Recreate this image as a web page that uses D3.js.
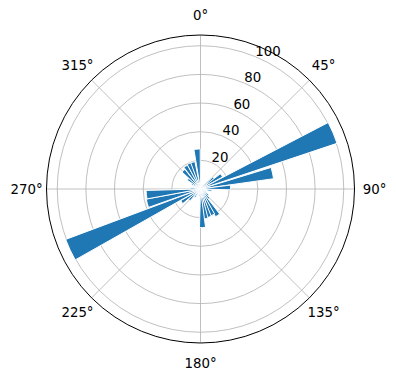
<!DOCTYPE html>
<html>
<head>
<meta charset="utf-8">
<script src="https://cdn.jsdelivr.net/npm/d3@7"></script>
<style>
  html, body { margin: 0; padding: 0; background: #fff; }
  svg text { font-family: "DejaVu Sans", sans-serif; font-size: 13.33px; fill: #000; }
</style>
</head>
<body>
<div id="chart"></div>
<script>
// bar directions (degrees, clockwise from north) and lengths
const directions = [50, 57, 67, 77.5, 87, 100, 118, 128, 138, 147, 155, 163, 170, 177,
                    188, 215, 226, 235, 245, 255, 264, 275, 300, 308, 317, 327, 336, 344, 355];
const values     = [12, 17.5, 100.5, 51.5, 21, 8, 5, 7, 9, 22, 20, 20.5, 21, 27,
                    5, 7, 11, 16, 100.5, 38.5, 38, 7, 7, 11, 17.5, 19, 19.5, 19.5, 28];
const rTicks = [20, 40, 60, 80, 100];
const thetaTicks = [0, 45, 90, 135, 180, 225, 270, 315];

const width = 396;
const height = 380;
const cx = 200.5;
const cy = 189;
const outerR = 154;
const rMax = 107.5;
const barWidth = 9; // degrees

const rad = d => d * Math.PI / 180;

const svg = d3.select('#chart')
    .append('svg')
    .attr('width', width)
    .attr('height', height)
    .append('g')
    .attr('transform', 'translate(' + cx + ',' + cy + ')');

//radius scale
const rScale = d3.scaleLinear()
    .domain([0, rMax])
    .range([0, outerR]);

//grid circles
svg.selectAll('circle.grid')
    .data(rTicks)
    .enter()
    .append('circle')
    .classed('grid', true)
    .attr('r', d => rScale(d))
    .attr('fill', 'none')
    .attr('stroke', '#b0b0b0')
    .attr('stroke-width', 0.8);

//theta grid lines
svg.selectAll('line.grid')
    .data(thetaTicks)
    .enter()
    .append('line')
    .classed('grid', true)
    .attr('x1', 0)
    .attr('y1', 0)
    .attr('x2', d => outerR * Math.sin(rad(d)))
    .attr('y2', d => -outerR * Math.cos(rad(d)))
    .attr('stroke', '#b0b0b0')
    .attr('stroke-width', 0.8);

//bars, white edges keep neighbours apart
const arc = d3.arc()
    .innerRadius(0)
    .outerRadius(d => rScale(d.v))
    .startAngle(d => rad(d.a - barWidth / 2))
    .endAngle(d => rad(d.a + barWidth / 2));

svg.selectAll('path.bar')
    .data(directions.map((a, i) => ({ a: a, v: values[i] })))
    .enter()
    .append('path')
    .classed('bar', true)
    .attr('d', arc)
    .attr('fill', '#1f77b4')
    .attr('stroke', '#fff')
    .attr('stroke-width', 1)
    .attr('stroke-linejoin', 'miter');

//outer spine
svg.append('circle')
    .attr('r', outerR)
    .attr('fill', 'none')
    .attr('stroke', '#000')
    .attr('stroke-width', 1);

//theta labels
svg.selectAll('text.theta')
    .data(thetaTicks)
    .enter()
    .append('text')
    .classed('theta', true)
    .attr('x', d => (outerR + 20) * Math.sin(rad(d)))
    .attr('y', d => -(outerR + 20) * Math.cos(rad(d)))
    .attr('text-anchor', 'middle')
    .attr('dominant-baseline', 'central')
    .text(d => d + '°');

//radial labels at 22.5 degrees
svg.selectAll('text.rlabel')
    .data(rTicks)
    .enter()
    .append('text')
    .classed('rlabel', true)
    .attr('x', d => rScale(d) * Math.sin(rad(22.5)))
    .attr('y', d => -rScale(d) * Math.cos(rad(22.5)) - 1)
    .attr('text-anchor', 'start')
    .text(d => d);
</script>
</body>
</html>
